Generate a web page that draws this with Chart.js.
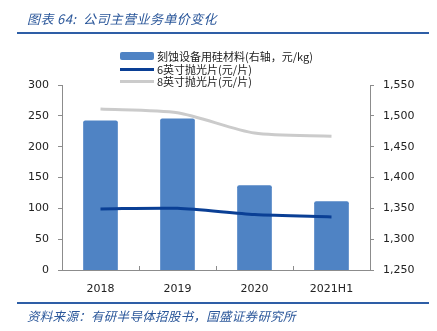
<!DOCTYPE html>
<html>
<head>
<meta charset="utf-8">
<script src="https://cdn.jsdelivr.net/npm/chart.js@4"></script>
<style>
  html, body { margin: 0; padding: 0; background: #fff; }
  #wrap { position: relative; width: 437px; height: 331px; overflow: hidden; }
  #chart { position: absolute; left: 0; top: 0; }
  .cap {
    position: absolute; left: 27px;
    font-family: "Noto Sans CJK SC", sans-serif; font-style: italic;
    color: #2b579a; white-space: nowrap; line-height: 1;
  }
  .rule { position: absolute; left: 17px; width: 412px; height: 2px; background: #2e5ea6; }
  #legend {
    position: absolute; left: 120px; top: 50px;
    font-family: "Noto Sans CJK SC", sans-serif; font-size: 11px; color: #222;
  }
  #legend .row { display: flex; align-items: center; height: 12.7px; line-height: 12.7px; white-space: nowrap; }
  #legend .sw { width: 34px; margin-right: 3px; flex: none; }
</style>
</head>
<body>
<div id="wrap">
  <canvas id="chart" width="437" height="331"></canvas>
  <div class="cap" style="top:12px;font-size:13px;letter-spacing:0.4px;">图表 64:&nbsp; 公司主营业务单价变化</div>
  <div class="rule" style="top:32px;"></div>
  <div id="legend"></div>
  <div class="rule" style="top:302px;"></div>
  <div class="cap" style="top:310px;font-size:12.5px;letter-spacing:0.3px;">资料来源：有研半导体招股书，国盛证券研究所</div>
</div>
<script>
/* -------------------------
   DATA
------------------------- */
const categories = ["2018", "2019", "2020", "2021H1"];
const etchSilicon = [1492, 1495, 1387, 1361];   // 元/kg, right axis
const wafer6 = [99, 100, 90, 86];               // 元/片, left axis
const wafer8 = [261, 255, 222, 217];            // 元/片, left axis

const seriesNames = ["刻蚀设备用硅材料(右轴，元/kg)", "6英寸抛光片(元/片)", "8英寸抛光片(元/片)"];
const leftTicks = { min: 0, max: 300, step: 50 };
const rightTicks = { min: 1250, max: 1550, step: 50 };

const BAR = "#4f83c4";
const DARK = "#0a3f95";
const GRAY = "#cbcbcb";
const AXIS = "#8c8c8c";
const tickFont = { family: "DejaVu Sans", size: 11 };

/* -------------------------
   LEGEND (html)
------------------------- */
const legend = document.getElementById("legend");
const swatches = [
  `<div class="sw" style="height:8px;background:${BAR};border-radius:2px"></div>`,
  `<div class="sw" style="height:3px;background:${DARK}"></div>`,
  `<div class="sw" style="height:3px;background:${GRAY}"></div>`
];
seriesNames.forEach((name, i) => {
  const row = document.createElement("div");
  row.className = "row";
  row.innerHTML = swatches[i] + `<span>${name}</span>`;
  legend.appendChild(row);
});

/* -------------------------
   CHART
------------------------- */
const ctx = document.getElementById("chart").getContext("2d");

new Chart(ctx, {
  data: {
    labels: categories,
    datasets: [
      {
        type: "line",
        label: seriesNames[1],
        data: wafer6,
        yAxisID: "y",
        borderColor: DARK,
        borderWidth: 3,
        pointRadius: 0,
        tension: 0.25,
        order: 1
      },
      {
        type: "line",
        label: seriesNames[2],
        data: wafer8,
        yAxisID: "y",
        borderColor: GRAY,
        borderWidth: 3,
        pointRadius: 0,
        tension: 0.25,
        order: 1
      },
      {
        type: "bar",
        label: seriesNames[0],
        data: etchSilicon,
        yAxisID: "y1",
        backgroundColor: BAR,
        borderRadius: 2,
        borderSkipped: "bottom",
        barThickness: 34,
        order: 2
      }
    ]
  },
  options: {
    responsive: false,
    animation: false,
    layout: { padding: { top: 85, left: 0, right: 0, bottom: 0 } },
    plugins: { legend: { display: false }, tooltip: { enabled: false } },
    scales: {
      x: {
        offset: true,
        grid: {
          offset: true,
          drawOnChartArea: false,
          drawTicks: true,
          tickLength: -4,
          color: AXIS
        },
        border: { color: AXIS, width: 1 },
        ticks: { color: "#222", font: tickFont, padding: 17 },
        afterFit: s => { s.height = 61; }
      },
      y: {
        position: "left",
        min: leftTicks.min,
        max: leftTicks.max,
        grid: { drawOnChartArea: false, tickLength: 4, color: AXIS },
        border: { color: AXIS, width: 1 },
        ticks: { stepSize: leftTicks.step, color: "#222", font: tickFont, padding: 9 },
        afterFit: s => { s.width = 62; }
      },
      y1: {
        position: "right",
        min: rightTicks.min,
        max: rightTicks.max,
        grid: { drawOnChartArea: false, tickLength: 4, color: AXIS },
        border: { color: AXIS, width: 1 },
        ticks: {
          stepSize: rightTicks.step,
          color: "#222",
          font: tickFont,
          padding: 9,
          callback: v => v.toLocaleString("en-US")
        },
        afterFit: s => { s.width = 67; }
      }
    }
  }
});
</script>
</body>
</html>
